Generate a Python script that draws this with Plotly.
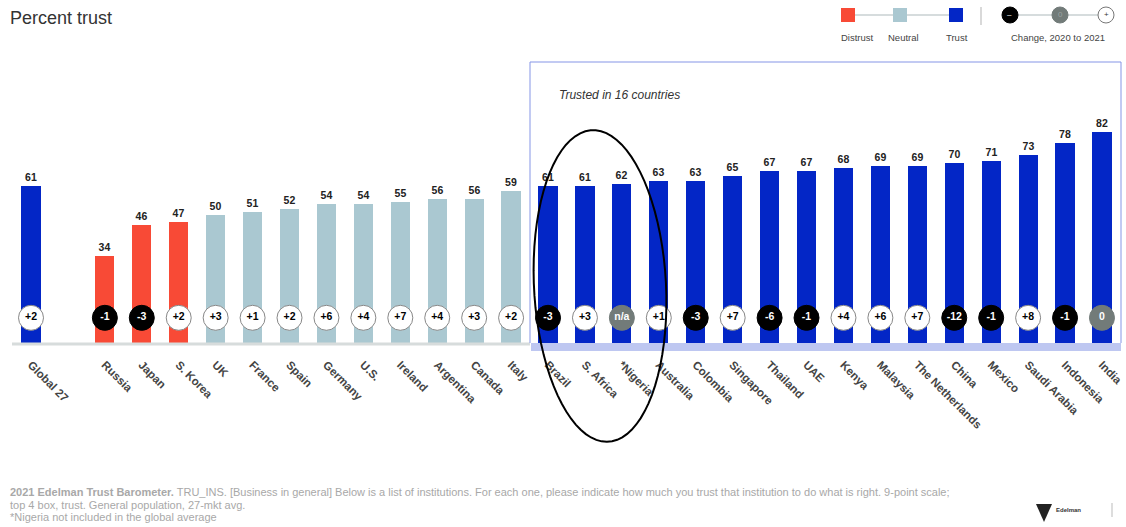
import plotly.graph_objects as go
import numpy as np

# ---------------- data ----------------
countries = ["Global 27", "Russia", "Japan", "S. Korea", "UK", "France", "Spain", "Germany",
             "U.S.", "Ireland", "Argentina", "Canada", "Italy", "Brazil", "S. Africa", "*Nigeria",
             "Australia", "Colombia", "Singapore", "Thailand", "UAE", "Kenya", "Malaysia",
             "The Netherlands", "China", "Mexico", "Saudi Arabia", "Indonesia", "India"]
trust = [61, 34, 46, 47, 50, 51, 52, 54, 54, 55, 56, 56, 59, 61, 61, 62, 63, 63, 65, 67, 67,
         68, 69, 69, 70, 71, 73, 78, 82]
change = ["+2", "-1", "-3", "+2", "+3", "+1", "+2", "+6", "+4", "+7", "+4", "+3", "+2", "-3",
          "+3", "n/a", "+1", "-3", "+7", "-6", "-1", "+4", "+6", "+7", "-12", "-1", "+8", "-1", "0"]
positions = [0] + list(range(2, 30))  # empty slot between Global 27 and the countries

RED = "#f84a36"
NEUTRAL = "#aac8d1"
BLUE = "#0326c6"
GREY_C = "#727b79"


def bar_color(v):
    if v < 50:
        return RED
    if v < 60:
        return NEUTRAL
    return BLUE


def circ_style(c):
    if c in ("n/a", "0"):
        return GREY_C, "white", GREY_C
    if c.startswith("-"):
        return "black", "white", "black"
    return "white", "black", "#888888"


W, H = 1126, 527
T, B = 60, 184
PLOT_H = H - T - B
BASE_PX = T + PLOT_H
X0, DX = 31.0, 36.93
YMAX = PLOT_H / 2.57


def px(x):
    return x / W


def py(y):
    return (BASE_PX - y) / PLOT_H


fig = go.Figure()

fig.add_trace(go.Bar(
    x=positions, y=trust, width=0.52,
    marker=dict(color=[bar_color(v) for v in trust], line=dict(width=0)),
    text=[str(v) for v in trust], textposition="outside",
    textfont=dict(family="Liberation Sans", size=10.5, color="#222222", weight="bold"),
    cliponaxis=False, hoverinfo="skip"))

styles = [circ_style(c) for c in change]
fig.add_trace(go.Scatter(
    x=positions, y=[9.8] * len(positions), mode="markers+text",
    marker=dict(size=25, color=[s[0] for s in styles],
                line=dict(color=[s[2] for s in styles], width=1)),
    text=change, textposition="middle center",
    textfont=dict(family="Liberation Sans", size=10.5, color=[s[1] for s in styles], weight="bold"),
    cliponaxis=False, hoverinfo="skip"))

shapes = []
annotations = []

# baseline grey line (left part) and hatched band (right part)
shapes.append(dict(type="line", xref="paper", yref="paper", x0=px(12), x1=px(530),
                   y0=py(344), y1=py(344), line=dict(color="#d7dcdc", width=3)))
shapes.append(dict(type="rect", xref="paper", yref="paper", x0=px(531), x1=px(1121),
                   y0=py(343), y1=py(351), fillcolor="rgba(110,130,225,0.45)", line=dict(width=0)))
# trust box
shapes.append(dict(type="path", xref="paper", yref="paper",
                   path=f"M {px(530)},{py(343)} L {px(530)},{py(62)} L {px(1121)},{py(62)} L {px(1121)},{py(343)}",
                   line=dict(color="#8595e6", width=1)))
annotations.append(dict(xref="paper", yref="paper", x=px(557), y=py(95), text="<i>Trusted in 16 countries</i>",
                        showarrow=False, xanchor="left", yanchor="middle",
                        font=dict(family="Liberation Sans", size=12, color="#333333")))

# ellipse (tilted) drawn as path
cx, cy, rx, ry, ang = 600, 286, 66, 156, np.deg2rad(-3)
t = np.linspace(0, 2 * np.pi, 80)
ex = cx + rx * np.cos(t) * np.cos(ang) - ry * np.sin(t) * np.sin(ang)
ey = cy + rx * np.cos(t) * np.sin(ang) + ry * np.sin(t) * np.cos(ang)
path = "M " + " L ".join(f"{px(a):.5f},{py(b):.5f}" for a, b in zip(ex, ey)) + " Z"
shapes.append(dict(type="path", xref="paper", yref="paper", path=path, line=dict(color="black", width=2)))

# title
annotations.append(dict(xref="paper", yref="paper", x=px(8), y=py(18), text="Percent trust", showarrow=False,
                        xanchor="left", yanchor="middle",
                        font=dict(family="Liberation Sans", size=18, color="#333333")))

# legend
shapes.append(dict(type="line", xref="paper", yref="paper", x0=px(848), x1=px(956), y0=py(15), y1=py(15),
                   line=dict(color="#c8d0d2", width=1.5)))
for xc, col in [(848, RED), (900, NEUTRAL), (956, BLUE)]:
    shapes.append(dict(type="rect", xref="paper", yref="paper", x0=px(xc - 7), x1=px(xc + 7),
                       y0=py(22), y1=py(8), fillcolor=col, line=dict(width=0)))
for xc, lab in [(857, "Distrust"), (903, "Neutral"), (957, "Trust")]:
    annotations.append(dict(xref="paper", yref="paper", x=px(xc), y=py(38), text=lab, showarrow=False,
                            xanchor="center", yanchor="middle",
                            font=dict(family="Liberation Sans", size=9.5, color="#444444")))
shapes.append(dict(type="line", xref="paper", yref="paper", x0=px(981), x1=px(981), y0=py(7), y1=py(25),
                   line=dict(color="#cccccc", width=1.5)))
shapes.append(dict(type="line", xref="paper", yref="paper", x0=px(1010), x1=px(1106), y0=py(15), y1=py(15),
                   line=dict(color="#c8d0d2", width=1.5)))
for xc, fc, lc, sym, tc in [(1010, "black", "black", "–", "white"), (1060, GREY_C, GREY_C, "0", "#9aa2a0"),
                            (1106, "white", "#777777", "+", "#333333")]:
    shapes.append(dict(type="circle", xref="paper", yref="paper", x0=px(xc - 8), x1=px(xc + 8),
                       y0=py(23), y1=py(7), fillcolor=fc, line=dict(color=lc, width=1)))
    annotations.append(dict(xref="paper", yref="paper", x=px(xc), y=py(15), text=sym, showarrow=False,
                            xanchor="center", yanchor="middle",
                            font=dict(family="Liberation Sans", size=8, color=tc)))
annotations.append(dict(xref="paper", yref="paper", x=px(1058), y=py(38), text="Change, 2020 to 2021",
                        showarrow=False, xanchor="center", yanchor="middle",
                        font=dict(family="Liberation Sans", size=9.5, color="#444444")))

# footer
foot = [
    (492, "<b>2021 Edelman Trust Barometer.</b> TRU_INS. [Business in general] Below is a list of institutions. "
          "For each one, please indicate how much you trust that institution to do what is right. 9-point scale;"),
    (505, "top 4 box, trust. General population, 27-mkt avg."),
    (517, "*Nigeria not included in the global average"),
]
for yy, txt in foot:
    annotations.append(dict(xref="paper", yref="paper", x=px(8), y=py(yy), text=txt, showarrow=False,
                            xanchor="left", yanchor="middle",
                            font=dict(family="Liberation Sans", size=11, color="#a8a8a8")))
annotations.append(dict(xref="paper", yref="paper", x=px(1054), y=py(510), text="<b>Edelman</b>", showarrow=False,
                        xanchor="left", yanchor="middle",
                        font=dict(family="Liberation Sans", size=6, color="#333333")))
shapes.append(dict(type="path", xref="paper", yref="paper",
                   path=f"M {px(1036)},{py(504)} L {px(1052)},{py(504)} L {px(1044)},{py(522)} Z",
                   fillcolor="#222222", line=dict(width=0)))
shapes.append(dict(type="line", xref="paper", yref="paper", x0=px(1112), x1=px(1112), y0=py(503), y1=py(517),
                   line=dict(color="#bbbbbb", width=1)))

fig.update_layout(
    width=W, height=H,
    margin=dict(l=0, r=0, t=T, b=B),
    paper_bgcolor="white", plot_bgcolor="white",
    showlegend=False, bargap=0,
    shapes=shapes, annotations=annotations,
    xaxis=dict(range=[(0 - X0) / DX, (W - X0) / DX], tickvals=positions, ticktext=countries,
               tickangle=45, showgrid=False, zeroline=False, showline=False, ticks="",
               ticklabelstandoff=12,
               tickfont=dict(family="Liberation Sans", size=11.5, color="#444444", weight="bold")),
    yaxis=dict(range=[0, YMAX], visible=False, showgrid=False, zeroline=False),
)

fig.write_html("out.html")
